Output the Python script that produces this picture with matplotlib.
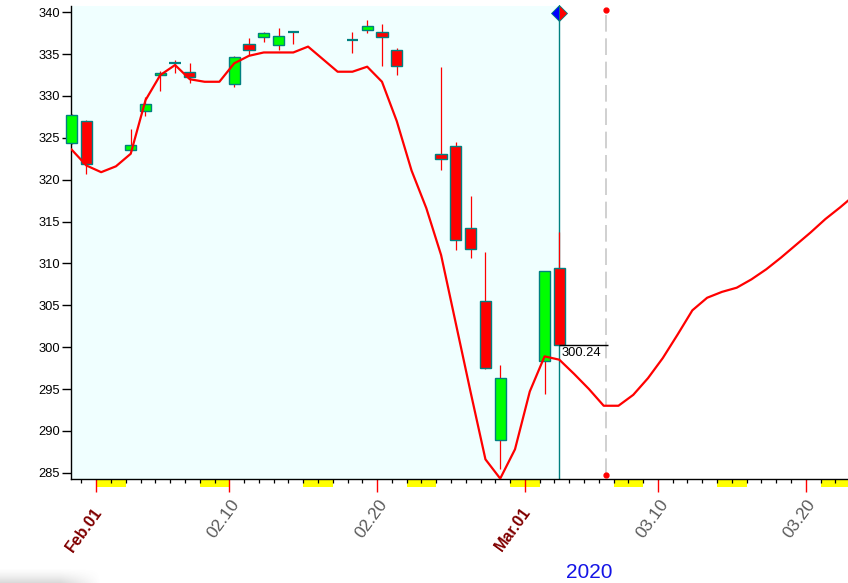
import numpy as np
import matplotlib
matplotlib.use("Agg")
import matplotlib.pyplot as plt
from matplotlib.patches import Rectangle
import matplotlib.transforms as mtransforms

plt.rcParams['font.family'] = ['Liberation Sans', 'DejaVu Sans']

# ---------------- data ----------------
base_date = np.datetime64('2020-02-01')

candle_dates = ['2020-01-30', '2020-01-31', '2020-02-03', '2020-02-04', '2020-02-05',
                '2020-02-06', '2020-02-07', '2020-02-10', '2020-02-11', '2020-02-12',
                '2020-02-13', '2020-02-14', '2020-02-18', '2020-02-19', '2020-02-20',
                '2020-02-21', '2020-02-24', '2020-02-25', '2020-02-26', '2020-02-27',
                '2020-02-28', '2020-03-02', '2020-03-03']
opens = [324.4, 327.0, 323.5, 328.2, 332.5, 334.0, 332.9, 331.4, 336.2, 337.0,
         336.1, 337.6, 336.7, 337.9, 337.7, 335.5, 323.1, 324.0, 314.2, 305.5,
         288.9, 298.3, 309.5]
highs = [327.8, 327.1, 326.1, 329.9, 333.0, 334.3, 333.9, 334.8, 336.9, 337.65,
         338.1, 337.6, 337.6, 339.1, 338.6, 335.7, 333.5, 324.5, 318.0, 311.4,
         297.9, 309.1, 313.8]
lows = [324.3, 320.7, 323.4, 327.6, 330.6, 332.8, 331.5, 331.1, 334.9, 336.4,
        335.5, 336.2, 335.1, 337.5, 333.6, 332.5, 321.2, 311.6, 310.7, 297.4,
        285.4, 294.4, 300.2]
closes = [327.7, 321.85, 324.1, 329.1, 332.8, 334.0, 332.3, 334.7, 335.5, 337.5,
          337.2, 337.6, 336.7, 338.4, 337.1, 333.6, 322.5, 312.8, 311.7, 297.5,
          296.3, 309.1, 300.24]

ma_start = '2020-01-30'
ma_values = [323.6, 321.7,
             320.9, 321.6, 323.1, 329.5, 332.5, 333.7, 332.0, 331.7, 331.7, 333.9,
             334.8, 335.2, 335.2, 335.2, 335.9, 334.4, 332.9, 332.9, 333.5, 331.7,
             327.0, 321.1, 316.6, 311.0, 302.8, 294.6, 286.6, 284.3, 287.8,
             294.7, 298.9, 298.5, 296.8, 295.0, 293.0, 293.0, 294.3, 296.3, 298.7,
             301.5, 304.4, 305.9, 306.6, 307.1, 308.1, 309.3, 310.7, 312.2, 313.7,
             315.3, 316.7, 318.2]

major_dates = ['2020-02-01', '2020-02-10', '2020-02-20', '2020-03-01', '2020-03-10', '2020-03-20']
major_labels = ['Feb.01', '02.10', '02.20', 'Mar.01', '03.10', '03.20']
month_start = [True, False, False, True, False, False]

weekend_starts = ['2020-02-01', '2020-02-08', '2020-02-15', '2020-02-22', '2020-02-29',
                  '2020-03-07', '2020-03-14', '2020-03-21']

last_price = 300.24
last_label = '300.24'
forecast_marker_date = '2020-03-06'
year_label = '2020'

y_ticks = [285, 290, 295, 300, 305, 310, 315, 320, 325, 330, 335, 340]


def dnum(s):
    return int((np.datetime64(s) - base_date).astype(int))


OFF = 0.33      # candle centre offset inside a day slot
CW = 0.76       # candle width in days

# ---------------- figure ----------------
fig = plt.figure(figsize=(8.48, 5.83), dpi=100)

# faint shadow in the bottom-left corner
sh = fig.add_axes([0, 0, 100 / 848, 16 / 583])
sh.axis('off')
gy = np.linspace(0, 1, 16)[:, None]
gx = np.clip((100 - np.arange(100)) / 40.0, 0, 1)[None, :]
alpha = (gy ** 1.5) * gx * 0.22
img = np.zeros((16, 100, 4))
img[..., :3] = 0.35
img[..., 3] = alpha
sh.imshow(img, aspect='auto', extent=(0, 1, 0, 1), origin='upper')
sh.set_xlim(0, 1)
sh.set_ylim(0, 1)

ax = fig.add_axes([71.3 / 848, 104 / 583, 776.7 / 848, 473 / 583])
ax.set_xlim(-1.69, 50.86)
ax.set_ylim(284.25, 340.75)
ax.set_facecolor('white')

cd = np.array([dnum(s) for s in candle_dates])
cx = cd + OFF
last_x = cx[-1]

blend = mtransforms.blended_transform_factory(ax.transData, ax.transAxes)

# shaded history region
ax.axvspan(-5, last_x, color='#F0FFFF', zorder=0, lw=0)

# current-bar vertical line
ax.plot([last_x, last_x], [0, 1], transform=blend, color='#008080', lw=1.0, zorder=1.5)

# wicks
ax.vlines(cx, lows, highs, color='#FF0000', lw=0.9, zorder=2, clip_on=False)

# bodies
for x, o, c in zip(cx, opens, closes):
    if abs(c - o) < 1e-9:
        ax.hlines(o, x - CW / 2, x + CW / 2, color='#008080', lw=1.6, zorder=3, clip_on=False)
    else:
        col = '#00FF00' if c > o else '#FF0000'
        ax.add_patch(Rectangle((x - CW / 2, min(o, c)), CW, abs(c - o),
                               facecolor=col, edgecolor='#008080', lw=1.0, zorder=3,
                               clip_on=False))

# moving average / forecast line
ma_x = dnum(ma_start) + np.arange(len(ma_values)) + OFF
ax.plot(ma_x, ma_values, color='#FF0000', lw=1.6, zorder=4)

# marker on top of current bar
ax.plot([last_x], [0.985], transform=blend, marker='D', markersize=8,
        fillstyle='left', markerfacecolor='#0000FF', markerfacecoloralt='#FF0000',
        markeredgecolor='#008080', markeredgewidth=0.6, zorder=6, clip_on=False)

# forecast dashed line
fx = dnum(forecast_marker_date) + 0.5
ax.plot([fx, fx], [0.0085, 0.992], transform=blend, color='#C8C8C8', lw=1.2,
        dashes=(10, 4), zorder=2)
ax.plot([fx, fx], [0.0085, 0.992], transform=blend, ls='none', marker='o',
        markersize=3.5, color='#FF0000', zorder=6, clip_on=False)

# last price line + label
ax.hlines(last_price, last_x, fx + 0.12, color='black', lw=1.0, zorder=5)
ax.annotate(last_label, xy=(last_x, last_price), xytext=(2, -2),
            textcoords='offset pixels', ha='left', va='top', fontsize=9.3, color='black',
            zorder=6)

# ---------------- axes styling ----------------
for s in ['top', 'right']:
    ax.spines[s].set_visible(False)
ax.spines['left'].set_linewidth(1.0)
ax.spines['bottom'].set_linewidth(1.0)

ax.set_yticks(y_ticks)
ax.set_yticklabels([str(v) for v in y_ticks], fontsize=9.3)
ax.tick_params(axis='y', direction='out', length=6.5, width=1.0, pad=1.5, colors='black')

all_days = np.arange(-1, 51)
ax.set_xticks(all_days, minor=True)
ax.set_xticks([dnum(s) for s in major_dates])
ax.set_xticklabels([''] * len(major_dates))
ax.tick_params(axis='x', which='minor', direction='out', length=3, width=0.9, colors='black')
ax.tick_params(axis='x', which='major', direction='out', length=9, width=1.0, colors='#FF0000')

# weekend boxes under the axis
for s in weekend_starts:
    d = dnum(s)
    ax.add_patch(Rectangle((d, -0.0163), 2, 0.0148, transform=blend,
                           facecolor='#FFFF00', edgecolor='none', clip_on=False, zorder=1))

# date labels
for s, lab, ms in zip(major_dates, major_labels, month_start):
    d = dnum(s)
    off = (3, -30) if ms else (7, -22)
    ax.annotate(lab, xy=(d, 0), xycoords=blend, xytext=off,
                textcoords='offset pixels', rotation=54, rotation_mode='anchor',
                ha='right', va='center', fontsize=12.5 if not ms else 11.5,
                color='#800000' if ms else '#5A5A5A',
                fontweight='bold' if ms else 'normal')

fig.text(589 / 848, 1 - 572 / 583, year_label, ha='center', va='center',
         fontsize=15, color='#1414E6')

fig.savefig('out.png', dpi=100)
